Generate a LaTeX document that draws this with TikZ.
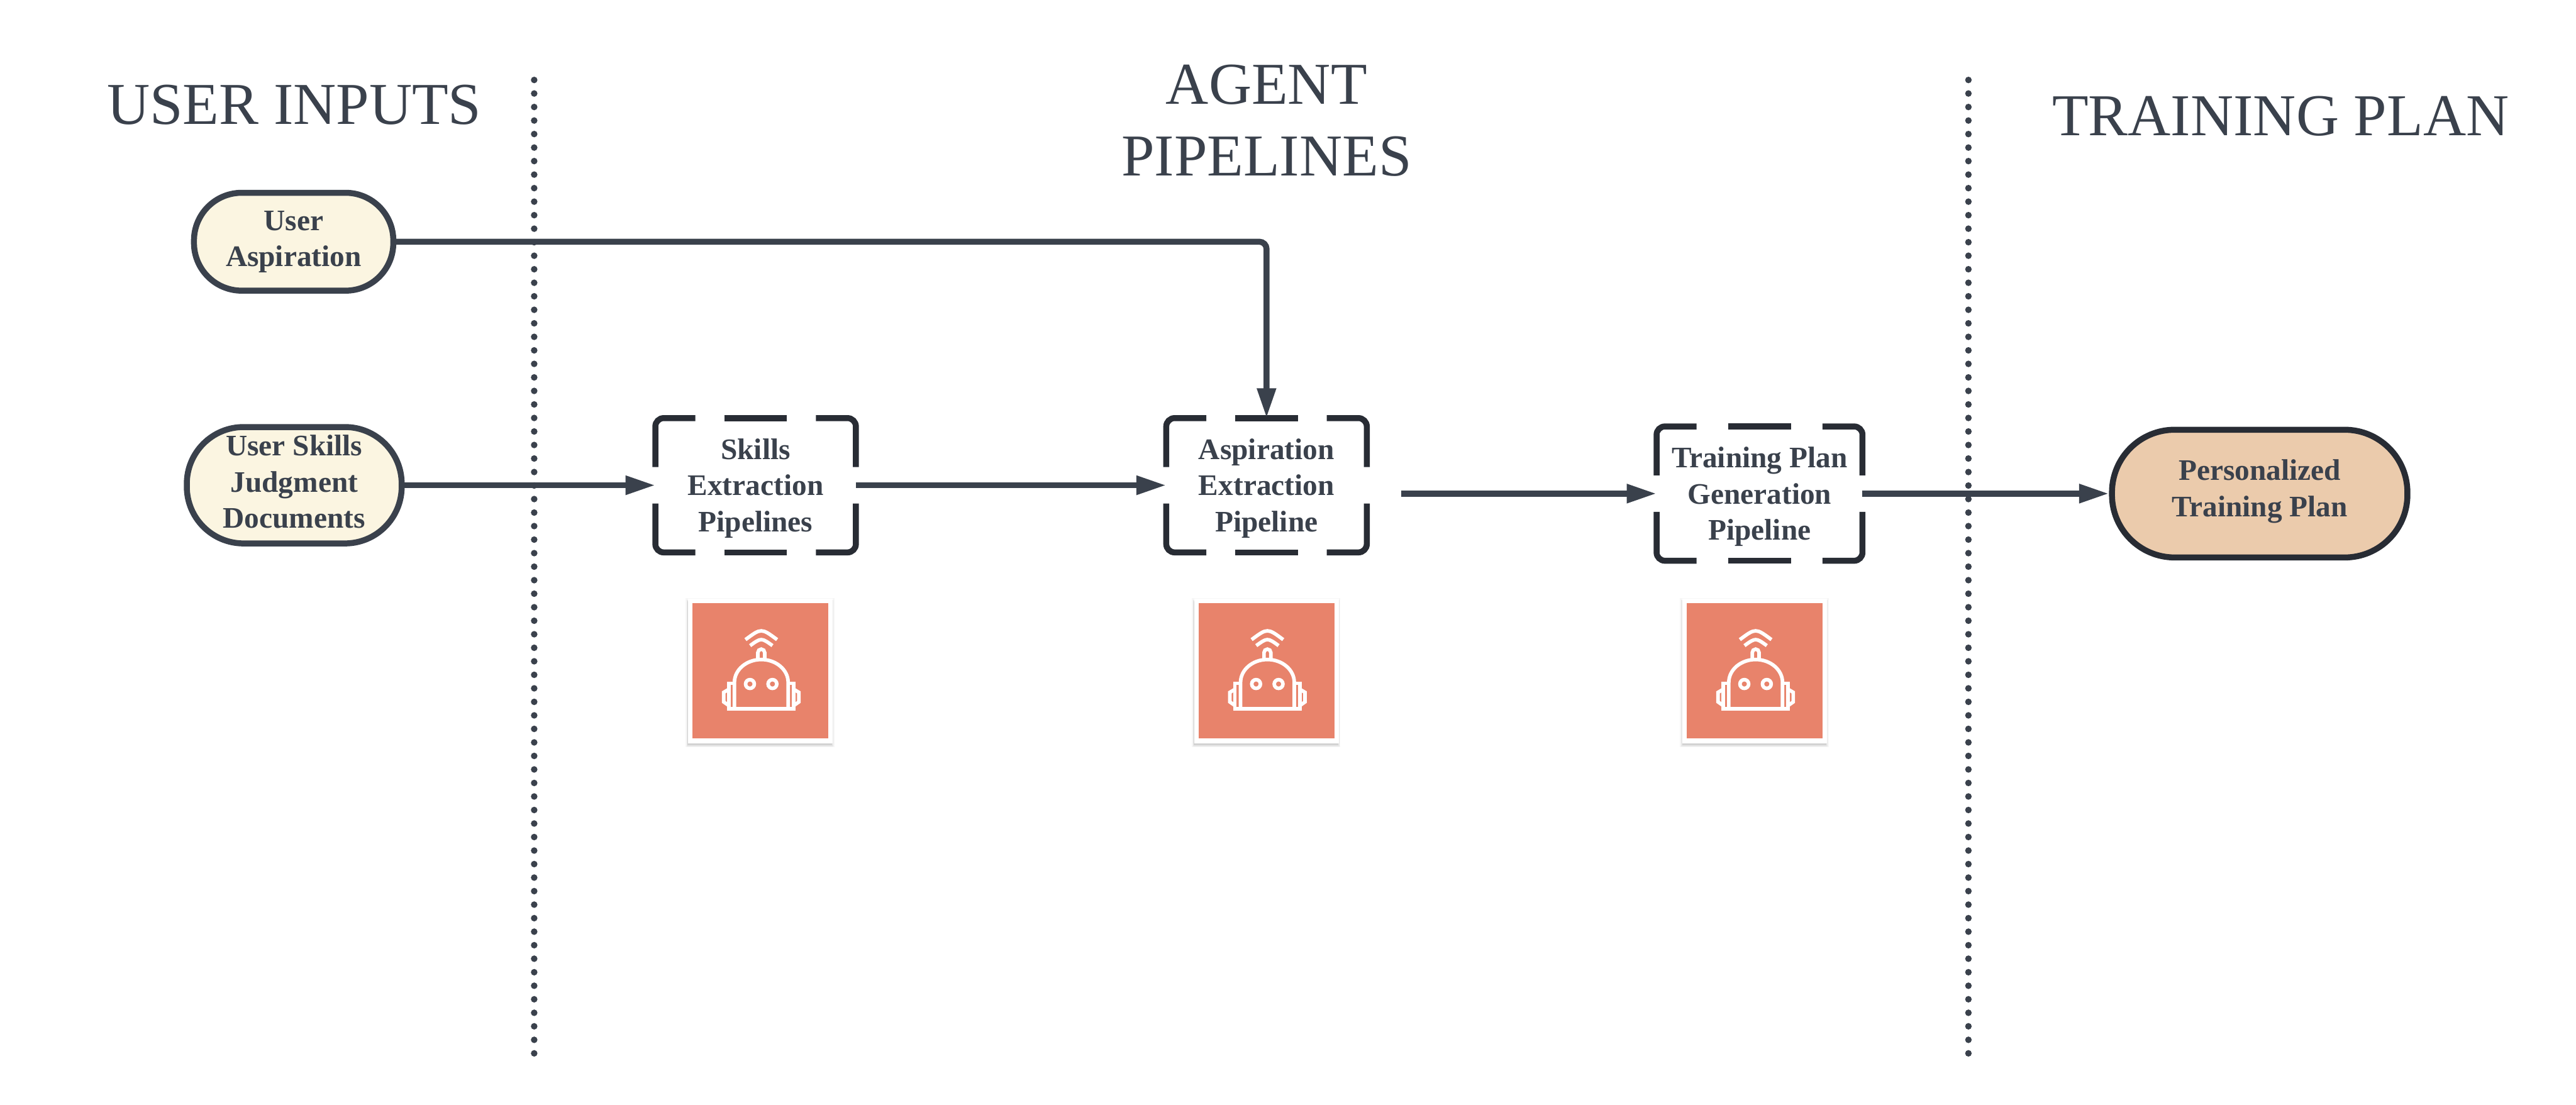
\documentclass[tikz,border=0pt]{standalone}
\usepackage{fontspec}
\setmainfont{Liberation Serif}
\usetikzlibrary{arrows.meta,shadows}
\definecolor{inkgray}{HTML}{3A414C}
\definecolor{boxgray}{HTML}{282C34}
\definecolor{creamfill}{HTML}{FBF5E1}
\definecolor{sandfill}{HTML}{EBCBAC}
\definecolor{tilefill}{HTML}{E8836B}
\tikzset{
	title/.style={text=inkgray, align=center, font=\fontsize{28.3}{34}\selectfont},
	label/.style={text=inkgray, align=center, font=\fontsize{14.2}{17.2}\selectfont\bfseries, inner sep=0pt},
	pill/.style={label, draw=inkgray, fill=creamfill, line width=.1cm, rounded corners=#1},
	pipebox/.style={label, outer sep=0pt, minimum height=2.25cm, text height=47.2pt, text depth=3pt},
	boxline/.style={draw=boxgray, line width=.1cm, rounded corners=.14cm},
	flow/.style={draw=inkgray, line width=.1cm, rounded corners=.12cm, -{Triangle[length=.5cm,width=.3cm]}},
	divider/.style={draw=inkgray, line width=.11cm, line cap=round, dash pattern=on 0pt off .2265cm},
	card/.style={fill=white, minimum size=2.42cm, inner sep=0pt,
		general shadow={shadow xshift=-.008cm, shadow yshift=-.04cm, opacity=.2, fill=gray},
		general shadow={shadow scale=1.015, shadow xshift=-.008cm, shadow yshift=-.035cm, opacity=.12, fill=gray},
		general shadow={shadow scale=1.03, shadow xshift=-.008cm, shadow yshift=-.03cm, opacity=.07, fill=gray}},
	tile/.style={fill=tilefill, minimum size=2.27cm, inner sep=0pt},
	robot/.pic={
		\begin{scope}[draw=white, line width=.06cm]
			\draw (-.45,-.637) -- (-.45,-.193) arc[start angle=180, end angle=0, x radius=.45, y radius=.383] -- (.45,-.637);
			\draw (-.45,-.21) -- (-.545,-.21) -- (-.545,-.637) -- (.545,-.637) -- (.545,-.21) -- (.45,-.21);
			\draw (-.545,-.31) -- (-.63,-.36) -- (-.63,-.52) -- (-.545,-.58);
			\draw (.545,-.31) -- (.63,-.36) -- (.63,-.52) -- (.545,-.58);
			\draw (-.057,.207) -- (-.057,.307) arc[start angle=180, end angle=0, radius=.057] -- (.057,.207);
			\draw (-.19,-.22) circle (.073);
			\draw (.187,-.22) circle (.073);
			\draw (-.265,.523) .. controls (0,.72) .. (.265,.523);
			\draw (-.187,.423) .. controls (0,.557) .. (.187,.423);
		\end{scope}
	}
}
\newcommand{\dashedbox}[1]{
	\draw[boxline] ([xshift=.67cm]#1.north west) -- (#1.north west) -- ([yshift=-.82cm]#1.north west);
	\draw[boxline] ([xshift=-.67cm]#1.north east) -- (#1.north east) -- ([yshift=-.82cm]#1.north east);
	\draw[boxline] ([xshift=.67cm]#1.south west) -- (#1.south west) -- ([yshift=.82cm]#1.south west);
	\draw[boxline] ([xshift=-.67cm]#1.south east) -- (#1.south east) -- ([yshift=.82cm]#1.south east);
	\draw[boxline] ([xshift=-.525cm]#1.north) -- ([xshift=.525cm]#1.north);
	\draw[boxline] ([xshift=-.525cm]#1.south) -- ([xshift=.525cm]#1.south);
}
\begin{document}
\begin{tikzpicture}
	\useasboundingbox (0,0) rectangle (43.16,-18.51);

	\draw[divider] (8.95,-1.34) -- (8.95,-17.7);
	\draw[divider] (32.98,-1.34) -- (32.98,-17.7);

	\node[title] (inputs) at (4.93,-1.76) {USER INPUTS};
	\node[title] (pipelines) at (21.22,-2.02) {AGENT\\PIPELINES};
	\node[title] (plantitle) at (38.21,-1.95) {TRAINING PLAN};

	\node[pill=.8cm, minimum width=3.34cm, minimum height=1.64cm] (aspiration) at (4.92,-4.05) {User\\Aspiration};
	\node[pill=.95cm, minimum width=3.6cm, minimum height=1.95cm, text height=41pt, text depth=.2pt] (documents) at (4.93,-8.13) {User Skills\\Judgment\\Documents};
	\node[pill=1.05cm, draw=boxgray, fill=sandfill, minimum width=4.95cm, minimum height=2.14cm, text height=24.9pt, text depth=3pt] (personal) at (37.86,-8.27) {Personalized\\Training Plan};

	\node[pipebox, minimum width=3.36cm] (skillsbox) at (12.66,-8.13) {Skills\\Extraction\\Pipelines};
	\node[pipebox, minimum width=3.36cm] (aspbox) at (21.22,-8.13) {Aspiration\\Extraction\\Pipeline};
	\node[pipebox, minimum width=3.45cm] (trainbox) at (29.48,-8.27) {Training Plan\\Generation\\Pipeline};
	\dashedbox{skillsbox}
	\dashedbox{aspbox}
	\dashedbox{trainbox}

	\coordinate (aspout) at (23.48,-8.27);
	\draw[flow] (aspiration.east) -| (aspbox.north);
	\draw[flow] (documents.east) -- (skillsbox.west);
	\draw[flow] (skillsbox.east) -- (aspbox.west);
	\draw[flow] (aspout) -- (trainbox.west);
	\draw[flow] (trainbox.east) -- (personal.west);

	\foreach \name/\x in {skills/12.74, asp/21.22, train/29.40} {
		\node[card] (\name card) at (\x,-11.24) {};
		\node[tile] (\name tile) at (\name card) {};
		\pic at ([xshift=.015cm]\name tile) {robot};
	}
\end{tikzpicture}
\end{document}
